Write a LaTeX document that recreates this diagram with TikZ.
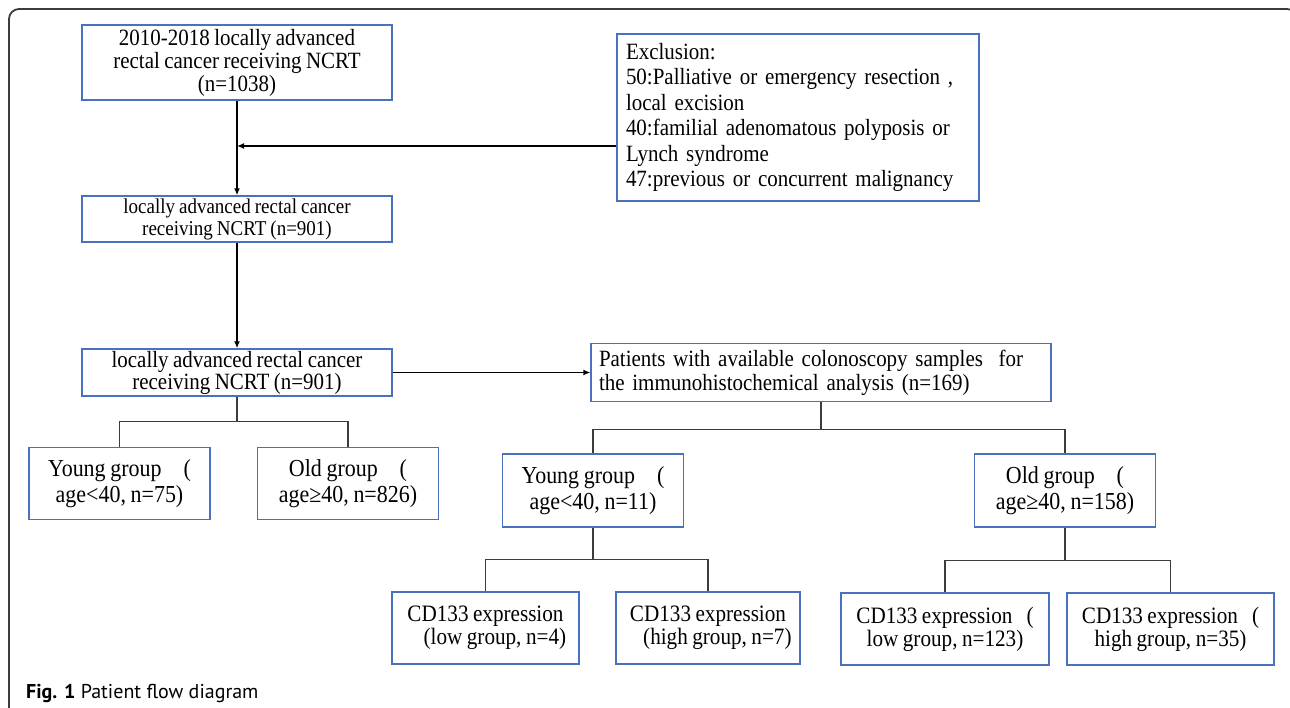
\documentclass[tikz,border=0pt]{standalone}
\usepackage{fontspec}
\setmainfont{Liberation Serif}[FakeStretch=0.9,WordSpace=0.85]
\newfontfamily\capfont{PT Sans}
\usetikzlibrary{positioning,arrows.meta}
\definecolor{boxblue}{RGB}{72,114,189}
\definecolor{linegray}{RGB}{60,60,60}
\newcommand{\fs}[2]{\fontsize{#1}{#2}\selectfont}

\begin{document}
\begin{tikzpicture}[x=1pt,y=-1pt,>={Latex[length=7pt,width=6pt]},
    box/.style={draw=boxblue,line width=1.4pt,align=center,inner sep=0pt,font=\fs{23.3}{24}},
    lbox/.style={box,align=left,inner xsep=9pt},
    grp/.style={box,minimum width=181,minimum height=72,font=\fs{24.4}{26}},
    cdbox/.style={box,minimum height=72,font=\fs{23.5}{23}},
    arr/.style={->,line width=1.5pt},
    split/.style={draw=linegray,line width=1.3pt}]
  \useasboundingbox (0,0) rectangle (1290,708);
  \draw[linegray,line width=1.8pt,rounded corners=10pt] (9,720) -- (9,9) -- (1297,9) -- (1297,720);

  \node[box,minimum width=310,minimum height=75,font=\fs{23.3}{23}] (all) at (237,62.5) {2010-2018 locally advanced\\rectal cancer receiving NCRT\\(n=1038)};
  \node[lbox,minimum width=362,minimum height=167,text width=344,font=\fs{23.3}{25.5}] (excl) at (798,117.5) {Exclusion:\\50:Palliative or emergency resection ,\\local excision\\40:familial adenomatous polyposis or\\Lynch syndrome\\47:previous or concurrent malignancy};
  \node[box,minimum width=310,minimum height=46,font=\fs{21.1}{22}] (ncrt) at (237,219) {locally advanced rectal cancer\\receiving NCRT (n=901)};
  \node[box,minimum width=310,minimum height=47,font=\fs{23.3}{22}] (cohort) at (237,372.5) {locally advanced rectal cancer\\receiving NCRT (n=901)};
  \node[lbox,minimum width=460,minimum height=58,text width=444,inner xsep=8pt] (ihc) at (821,372.5) {Patients with available colonoscopy samples\ \ for\\the immunohistochemical analysis (n=169)};

  \node[grp] (young) at (119.5,483.5) {Young group\hspace{0.9em}(\\age<40, n=75)};
  \node[grp] (old) at (348,483.5) {Old group\hspace{0.9em}(\\age≥40, n=826)};
  \node[grp,minimum height=73] (youngihc) at (593,490.5) {Young group\hspace{0.9em}(\\age<40, n=11)};
  \node[grp,minimum height=73] (oldihc) at (1065,490.5) {Old group\hspace{0.9em}(\\age≥40, n=158)};

  \node[cdbox,minimum width=187] (ylow) at (485.5,628) {CD133 expression\\\hspace{0.8em}(low group, n=4)};
  \node[cdbox,minimum width=184] (yhigh) at (708,628) {CD133 expression\\\hspace{0.8em}(high group, n=7)};
  \node[cdbox,minimum width=208] (olow) at (945,629) {CD133 expression\hspace{0.6em}(\\low group, n=123)};
  \node[cdbox,minimum width=207] (ohigh) at (1170.5,629) {CD133 expression\hspace{0.6em}(\\high group, n=35)};

  \node[anchor=base west,inner sep=0pt,font=\capfont\fs{20}{22}] (caption) at (26,698) {\textbf{Fig. 1} Patient flow diagram};

  \coordinate (merge) at (237,146);
  \draw[arr] (all) -- (ncrt);
  \draw[arr] (excl.west |- merge) -- (merge);
  \draw[arr] (ncrt) -- (cohort);
  \draw[arr] (cohort) -- (ihc);
  \draw[split] (cohort.south) -- ++(0,25) -| (young.north);
  \draw[split] (cohort.south) -- ++(0,25) -| (old.north);
  \draw[split] (ihc.south) -- ++(0,27) -| (youngihc.north);
  \draw[split] (ihc.south) -- ++(0,27) -| (oldihc.north);
  \draw[split] (youngihc.south) -- ++(0,32) -| (ylow.north);
  \draw[split] (youngihc.south) -- ++(0,32) -| (yhigh.north);
  \draw[split] (oldihc.south) -- ++(0,33) -| (olow.north);
  \draw[split] (oldihc.south) -- ++(0,33) -| (ohigh.north);
\end{tikzpicture}
\end{document}
